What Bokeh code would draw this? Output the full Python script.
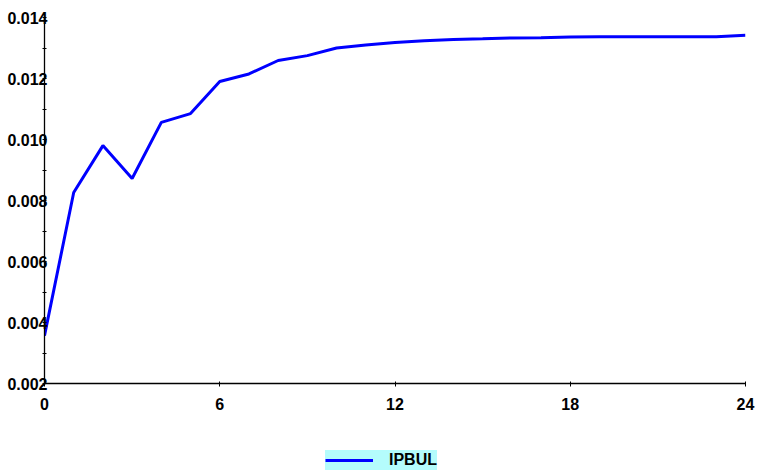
from bokeh.plotting import figure
from bokeh.layouts import column
from bokeh.models import FixedTicker, Legend, LegendItem, Range1d, PrintfTickFormatter
from bokeh.embed import file_html
from bokeh.resources import INLINE

# ---- data ----
months = list(range(25))
ipbul = [0.00357, 0.00826, 0.00980, 0.00872, 0.01056, 0.01085, 0.01190,
         0.01215, 0.01259, 0.01275, 0.01300, 0.01310, 0.01318, 0.01324,
         0.01328, 0.01330, 0.01333, 0.01334, 0.01336, 0.01337, 0.01337,
         0.01337, 0.01337, 0.01337, 0.01342]
series_name = "IPBUL"
x_ticks = [0, 6, 12, 18, 24]
y_ticks = [0.002, 0.004, 0.006, 0.008, 0.010, 0.012, 0.014]
y_minor = [0.003, 0.005, 0.007, 0.009, 0.011, 0.013]

FONT = "Liberation Sans"
LINE_COLOR = "#0000ff"

p = figure(width=762, height=447, output_backend="svg", toolbar_location=None,
           x_range=Range1d(0, 24), y_range=Range1d(0.002, 0.014),
           min_border_left=44, min_border_right=17, min_border_top=17,
           min_border_bottom=64)
p.outline_line_color = None
p.grid.visible = False
p.background_fill_color = "white"
p.border_fill_color = "white"

r = p.line(months, ipbul, line_color=LINE_COLOR, line_width=3)

for ax in (p.xaxis[0], p.yaxis[0]):
    ax.axis_line_color = "black"
    ax.axis_line_width = 1.3
    ax.major_tick_line_color = "black"
    ax.minor_tick_line_color = "black"
    ax.major_label_text_font = FONT
    ax.major_label_text_font_style = "bold"
    ax.major_label_text_font_size = "16px"
    ax.major_label_text_color = "black"

p.xaxis.ticker = FixedTicker(ticks=x_ticks)
p.xaxis.major_tick_in = 2
p.xaxis.major_tick_out = 3
p.xaxis.minor_tick_line_color = None
p.xaxis.major_label_standoff = 11

p.yaxis.ticker = FixedTicker(ticks=y_ticks, minor_ticks=y_minor)
p.yaxis.formatter = PrintfTickFormatter(format="%.3f")
p.yaxis.major_tick_in = 2
p.yaxis.major_tick_out = 2
p.yaxis.minor_tick_in = 2
p.yaxis.minor_tick_out = 2
p.yaxis.major_label_standoff = -5

# ---- legend strip (separate small figure under the chart) ----
lg = figure(width=762, height=25, output_backend="svg", toolbar_location=None,
            x_axis_location=None, y_axis_location=None,
            x_range=Range1d(100, 101), y_range=Range1d(100, 101),
            min_border=0)
lg.outline_line_color = None
lg.grid.visible = False
lg.background_fill_color = "white"
lg.border_fill_color = "white"
# same-styled line, lying outside this strip's ranges; used for the legend key only
r_key = lg.line(months, ipbul, line_color=LINE_COLOR, line_width=3)

legend = Legend(items=[LegendItem(label=series_name, renderers=[r_key])],
                location=(281, 2), orientation="horizontal",
                background_fill_color="#b4fcfc", background_fill_alpha=1.0,
                border_line_color=None, padding=2, margin=0, spacing=0,
                glyph_width=48, glyph_height=20, label_height=20,
                label_standoff=16, label_text_font=FONT,
                label_text_font_style="bold", label_text_font_size="16px",
                label_text_color="black")
lg.add_layout(legend, "center")

layout = column(p, lg, spacing=0)
open("out.html", "w").write(file_html(layout, INLINE))
